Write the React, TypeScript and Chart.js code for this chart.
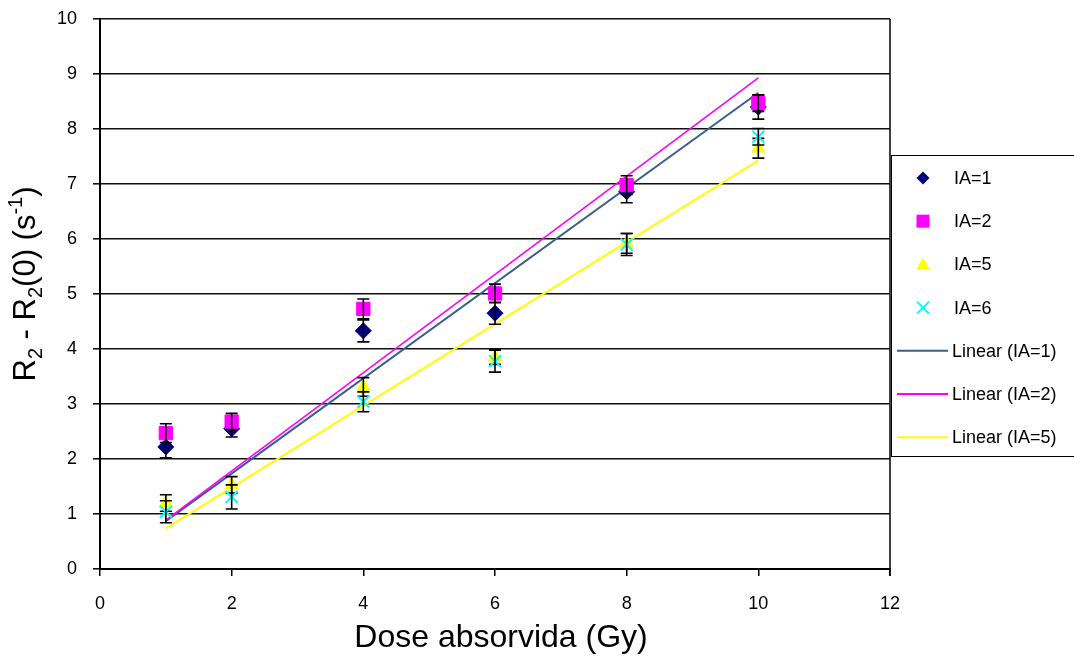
import React, { useEffect, useRef } from "react";
import { Chart, registerables } from "chart.js";

Chart.register(...registerables);

// ---- data ----
const doses = [1, 2, 4, 6, 8, 10];
const ia1 = [2.22, 2.55, 4.33, 4.65, 6.86, 8.4];
const ia1Err = [0.2, 0.15, 0.2, 0.2, 0.2, 0.22];
const ia2 = [2.47, 2.68, 4.73, 5.01, 6.98, 8.47];
const ia2Err = [0.17, 0.15, 0.18, 0.17, 0.17, 0.15];
const ia5 = [1.2, 1.53, 3.31, 3.85, 5.92, 7.65];
const ia5Err = [0.15, 0.15, 0.17, 0.13, 0.18, 0.18];
const ia6 = [1.04, 1.31, 3.04, 3.78, 5.9, 7.86];
const ia6Err = [0.2, 0.22, 0.18, 0.2, 0.2, 0.15];

const fitX = [1, 10];
const fit1 = [0.87, 8.66];
const fit2 = [0.89, 8.93];
const fit5 = [0.74, 7.43];

const seriesLabels = ["IA=1", "IA=2", "IA=5", "IA=6"];
const fitLabels = ["Linear (IA=1)", "Linear (IA=2)", "Linear (IA=5)"];
const xTitle = "Dose absorvida (Gy)";

const FONT = "'Liberation Sans', Arial, sans-serif";
const NAVY = "#000080";
const MAGENTA = "#FF00FF";
const YELLOW = "#FFFF00";
const CYAN = "#00FFFF";
const FIT1 = "#3A5F8A";

const pts = (xs: number[], ys: number[]) => xs.map((x, i) => ({ x, y: ys[i] }));

const errorBarPlugin = {
  id: "errorBars",
  afterDatasetDraw(chart: any, args: any) {
    const ds: any = chart.data.datasets[args.index];
    if (!ds.errors) return;
    const { ctx, scales } = chart;
    const xs = scales.x, ys = scales.y;
    ctx.save();
    ctx.strokeStyle = "#000";
    ctx.lineWidth = 1.6;
    ds.data.forEach((p: any, i: number) => {
      const e = ds.errors[i];
      const px = xs.getPixelForValue(p.x);
      const top = ys.getPixelForValue(p.y + e);
      const bot = ys.getPixelForValue(p.y - e);
      ctx.beginPath();
      ctx.moveTo(px, top);
      ctx.lineTo(px, bot);
      ctx.moveTo(px - 6, top);
      ctx.lineTo(px + 6, top);
      ctx.moveTo(px - 6, bot);
      ctx.lineTo(px + 6, bot);
      ctx.stroke();
    });
    ctx.restore();
  },
};

const decorPlugin = {
  id: "decor",
  afterDraw(chart: any) {
    const { ctx, chartArea } = chart;
    ctx.save();
    // right border of plot area
    ctx.strokeStyle = "#000";
    ctx.lineWidth = 1.5;
    ctx.beginPath();
    ctx.moveTo(chartArea.right, chartArea.top);
    ctx.lineTo(chartArea.right, chartArea.bottom + 7);
    ctx.stroke();

    // x title
    ctx.fillStyle = "#000";
    ctx.font = `32px ${FONT}`;
    ctx.textAlign = "center";
    ctx.textBaseline = "alphabetic";
    ctx.fillText(xTitle, 501, 647);

    // y title with sub/superscripts
    const parts: [string, string][] = [
      ["R", "n"], ["2", "sub"], [" - R", "n"], ["2", "sub"], ["(0) (s", "n"], ["-1", "sup"], [")", "n"],
    ];
    const big = `31px ${FONT}`;
    const small = `20px ${FONT}`;
    let total = 0;
    const widths = parts.map(([t, m]) => {
      ctx.font = m === "n" ? big : small;
      const w = ctx.measureText(t).width;
      total += w;
      return w;
    });
    ctx.translate(35, 284);
    ctx.rotate(-Math.PI / 2);
    ctx.textAlign = "left";
    let cx = -total / 2;
    parts.forEach(([t, m], i) => {
      ctx.font = m === "n" ? big : small;
      const dy = m === "sub" ? 7 : m === "sup" ? -13 : 0;
      ctx.fillText(t, cx, dy);
      cx += widths[i];
    });
    ctx.restore();

    // legend
    ctx.save();
    ctx.fillStyle = "#fff";
    ctx.fillRect(891, 155, 200, 302);
    ctx.strokeStyle = "#000";
    ctx.lineWidth = 1;
    ctx.strokeRect(891.5, 155.5, 200, 301);
    const ys0 = 178, step = 43.2, mx = 923, tx = 954;
    ctx.font = `18px ${FONT}`;
    ctx.textBaseline = "middle";
    ctx.textAlign = "left";
    // diamond
    let y = ys0;
    ctx.fillStyle = NAVY;
    ctx.beginPath();
    ctx.moveTo(mx, y - 6.5); ctx.lineTo(mx + 6.5, y); ctx.lineTo(mx, y + 6.5); ctx.lineTo(mx - 6.5, y); ctx.closePath();
    ctx.fill();
    // square
    y = ys0 + step;
    ctx.fillStyle = MAGENTA;
    ctx.fillRect(mx - 6.5, y - 6.5, 13, 13);
    // triangle
    y = ys0 + 2 * step;
    ctx.fillStyle = YELLOW;
    ctx.beginPath();
    ctx.moveTo(mx, y - 7); ctx.lineTo(mx + 7, y + 5); ctx.lineTo(mx - 7, y + 5); ctx.closePath();
    ctx.fill();
    // x
    y = ys0 + 3 * step;
    ctx.strokeStyle = CYAN;
    ctx.lineWidth = 2;
    ctx.beginPath();
    ctx.moveTo(mx - 6, y - 6); ctx.lineTo(mx + 6, y + 6);
    ctx.moveTo(mx + 6, y - 6); ctx.lineTo(mx - 6, y + 6);
    ctx.stroke();
    ctx.fillStyle = "#000";
    seriesLabels.forEach((l, i) => ctx.fillText(l, tx, ys0 + i * step + 1));
    const fitColors = [FIT1, MAGENTA, YELLOW];
    fitLabels.forEach((l, i) => {
      const yy = ys0 + (4 + i) * step;
      ctx.strokeStyle = fitColors[i];
      ctx.lineWidth = 2;
      ctx.beginPath();
      ctx.moveTo(897, yy);
      ctx.lineTo(948, yy);
      ctx.stroke();
      ctx.fillStyle = "#000";
      ctx.fillText(l, 952, yy + 1);
    });
    ctx.restore();
  },
};

export default function App() {
  const ref = useRef<HTMLCanvasElement | null>(null);
  useEffect(() => {
    if (!ref.current) return;
    const chart = new Chart(ref.current, {
      type: "scatter",
      data: {
        datasets: [
          {
            type: "line", label: fitLabels[0], data: pts(fitX, fit1), borderColor: FIT1, borderWidth: 2,
            pointRadius: 0, showLine: true, fill: false, order: 12,
          } as any,
          {
            type: "line", label: fitLabels[1], data: pts(fitX, fit2), borderColor: MAGENTA, borderWidth: 1.6,
            pointRadius: 0, showLine: true, fill: false, order: 11,
          } as any,
          {
            type: "line", label: fitLabels[2], data: pts(fitX, fit5), borderColor: YELLOW, borderWidth: 2,
            pointRadius: 0, showLine: true, fill: false, order: 10,
          } as any,
          {
            label: seriesLabels[0], data: pts(doses, ia1), errors: ia1Err, pointStyle: "rectRot", pointRadius: 8,
            backgroundColor: NAVY, borderColor: NAVY, borderWidth: 1, order: 4,
          } as any,
          {
            label: seriesLabels[1], data: pts(doses, ia2), errors: ia2Err, pointStyle: "rect", pointRadius: 9.4,
            backgroundColor: MAGENTA, borderColor: MAGENTA, borderWidth: 1, order: 3,
          } as any,
          {
            label: seriesLabels[2], data: pts(doses, ia5), errors: ia5Err, pointStyle: "triangle", pointRadius: 7.5,
            backgroundColor: YELLOW, borderColor: YELLOW, borderWidth: 1, order: 2,
          } as any,
          {
            label: seriesLabels[3], data: pts(doses, ia6), errors: ia6Err, pointStyle: "crossRot", pointRadius: 8.5,
            backgroundColor: CYAN, borderColor: CYAN, borderWidth: 2, order: 1,
          } as any,
        ],
      },
      options: {
        animation: false,
        responsive: false,
        layout: { padding: { left: 0, top: 19, right: 184, bottom: 0 } },
        plugins: { legend: { display: false }, tooltip: { enabled: false }, title: { display: false } },
        scales: {
          x: {
            type: "linear", min: 0, max: 12,
            afterFit: (s: any) => { s.height = 88; s.paddingLeft = 0; s.paddingRight = 0; },
            ticks: { stepSize: 2, color: "#000", padding: 17, font: { family: FONT, size: 18 } },
            grid: { drawOnChartArea: false, drawTicks: true, tickLength: 7, color: "#000", lineWidth: 1.5 },
            border: { display: true, color: "#000", width: 2 },
          },
          y: {
            type: "linear", min: 0, max: 10,
            afterFit: (s: any) => { s.width = 100; s.paddingTop = 0; s.paddingBottom = 0; },
            ticks: { stepSize: 1, color: "#000", padding: 16, font: { family: FONT, size: 18 } },
            grid: { color: "#111", lineWidth: 1.6, drawTicks: true, tickLength: 7 },
            border: { display: true, color: "#000", width: 2 },
          },
        },
      } as any,
      plugins: [errorBarPlugin, decorPlugin],
    });
    return () => chart.destroy();
  }, []);
  return (
    <div style={{ position: "fixed", left: 0, top: 0, width: 1074, height: 657, background: "#fff" }}>
      <canvas ref={ref} width={1074} height={657} style={{ display: "block" }} />
    </div>
  );
}
